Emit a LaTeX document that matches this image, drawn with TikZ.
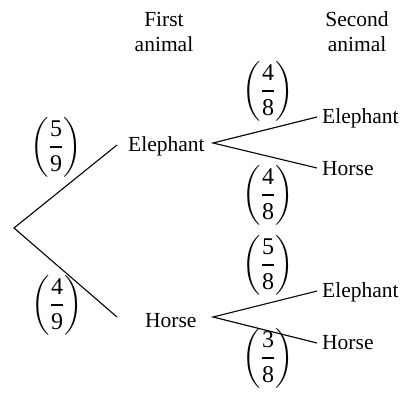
\documentclass[tikz,border=0pt]{standalone}
\usepackage{amsmath}
\usepackage{fontspec}
\setmainfont{Liberation Serif}
\newcommand{\pfrac}[2]{$\displaystyle\left(\genfrac{}{}{1.5pt}{0}{\rule[-3pt]{0pt}{19pt}\textrm{#1}}{\rule{0pt}{19pt}\textrm{#2}}\right)$}
\begin{document}
\begin{tikzpicture}[x=1pt,y=-1pt,
  lbl/.style={font=\fontsize{21.5}{25}\selectfont, inner sep=0pt},
  hdr/.style={font=\fontsize{21.5}{25}\selectfont, inner sep=0pt, align=center},
  frac/.style={font=\fontsize{24}{28}\selectfont, inner sep=0pt},
  br/.style={line width=1.1pt}]
\useasboundingbox (0,0) rectangle (401,396);
% headers
\node[hdr, anchor=base] (h1a) at (164,27) {First};
\node[hdr, anchor=base] (h1b) at (164,52) {animal};
\node[hdr, anchor=base] (h2a) at (357,27) {Second};
\node[hdr, anchor=base] (h2b) at (357,52) {animal};
% tree points
\coordinate (r) at (14,228);
\coordinate (e1in) at (117,145);
\coordinate (h1in) at (117,317);
\coordinate (e1out) at (213,143);
\coordinate (h1out) at (213,317);
\coordinate (e2in) at (317,117);
\coordinate (h2in) at (317,168);
\coordinate (e3in) at (317,291);
\coordinate (h3in) at (317,343);
% labels
\node[lbl, anchor=base west] (e1) at (128,151) {Elephant};
\node[lbl, anchor=base west] (h1) at (145,327) {Horse};
\node[lbl, anchor=base west] (e2) at (322,123) {Elephant};
\node[lbl, anchor=base west] (h2) at (322,175) {Horse};
\node[lbl, anchor=base west] (e3) at (322,297) {Elephant};
\node[lbl, anchor=base west] (h3) at (322,349) {Horse};
% branches
\draw[br] (e1in) -- (r) -- (h1in);
\draw[br] (e2in) -- (e1out) -- (h2in);
\draw[br] (e3in) -- (h1out) -- (h3in);
% fractions
\node[frac] (f1) at (56,147) {\pfrac{5}{9}};
\node[frac] (f2) at (57,305) {\pfrac{4}{9}};
\node[frac] (f3) at (268,91) {\pfrac{4}{8}};
\node[frac] (f4) at (268,195) {\pfrac{4}{8}};
\node[frac] (f5) at (268,265) {\pfrac{5}{8}};
\node[frac] (f6) at (268,358) {\pfrac{3}{8}};
\end{tikzpicture}
\end{document}
